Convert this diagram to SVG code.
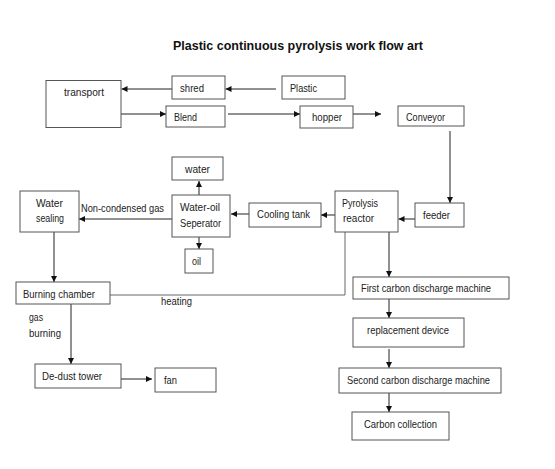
<svg xmlns="http://www.w3.org/2000/svg" width="555" height="469" viewBox="0 0 555 469">
<defs>
<marker id="ah" markerUnits="userSpaceOnUse" markerWidth="7" markerHeight="7" refX="6" refY="3" orient="auto">
<path d="M0,0 L6,3 L0,6 z" fill="#111"/>
</marker>
</defs>
<style>
.box{fill:#fff;stroke:#555;stroke-width:1}
.t{font-family:"Liberation Sans",Arial,sans-serif;font-size:10.5px;fill:#222}
.c{fill:none;stroke:#222;stroke-width:1}
.h{fill:none;stroke:#666;stroke-width:1}
.title{font-family:"Liberation Sans",Arial,sans-serif;font-size:13px;font-weight:bold;fill:#111}
</style>
<rect width="555" height="469" fill="#fff"/>
<text class="title" x="173" y="50" textLength="250" lengthAdjust="spacingAndGlyphs">Plastic continuous pyrolysis work flow art</text>

<g id="connectors">
<path class="c" d="M276,89 L225.5,89" marker-end="url(#ah)"/>
<path class="c" d="M172,89 L121.5,89" marker-end="url(#ah)"/>
<path class="c" d="M121,114 L166,114" marker-end="url(#ah)"/>
<path class="c" d="M228,114 L300,114" marker-end="url(#ah)"/>
<path class="c" d="M353,114 L381,114" marker-end="url(#ah)"/>
<path class="c" d="M450,131 L450,203" marker-end="url(#ah)"/>
<path class="c" d="M415,219 L398.5,219" marker-end="url(#ah)"/>
<path class="c" d="M335,215 L321,215" marker-end="url(#ah)"/>
<path class="c" d="M249,214 L231,214" marker-end="url(#ah)"/>
<path class="c" d="M199,195 L199,181" marker-end="url(#ah)"/>
<path class="c" d="M199,237 L199,249" marker-end="url(#ah)"/>
<path class="c" d="M172,219 L79,219" marker-end="url(#ah)"/>
<path class="c" d="M54,232 L54,282" marker-end="url(#ah)"/>
<path class="h" d="M345,232 L345,295 L110,295"/>
<path class="c" d="M389,232 L389,277" marker-end="url(#ah)"/>
<path class="c" d="M389,299 L389,318" marker-end="url(#ah)"/>
<path class="c" d="M389,349 L389,368" marker-end="url(#ah)"/>
<path class="c" d="M389,393 L389,412" marker-end="url(#ah)"/>
<path class="c" d="M71,304 L71,364" marker-end="url(#ah)"/>
<path class="c" d="M121,379 L152,379" marker-end="url(#ah)"/>
<text class="t" x="81" y="212" textLength="83" lengthAdjust="spacingAndGlyphs">Non-condensed gas</text>
<text class="t" x="161" y="305" textLength="31" lengthAdjust="spacingAndGlyphs">heating</text>
<text class="t" x="29" y="321" textLength="14" lengthAdjust="spacingAndGlyphs">gas</text>
<text class="t" x="29" y="337" textLength="32" lengthAdjust="spacingAndGlyphs">burning</text>
</g>

<g id="transport"><rect class="box" x="46" y="80.5" width="75" height="47"/><text class="t" x="64" y="96" textLength="40" lengthAdjust="spacingAndGlyphs">transport</text></g>
<g id="shred"><rect class="box" x="172" y="76" width="53" height="23"/><text class="t" x="180" y="92" textLength="24" lengthAdjust="spacingAndGlyphs">shred</text></g>
<g id="plastic"><rect class="box" x="282" y="76" width="63" height="23"/><text class="t" x="290" y="92" textLength="27" lengthAdjust="spacingAndGlyphs">Plastic</text></g>
<g id="blend"><rect class="box" x="166" y="106" width="59" height="21"/><text class="t" x="174" y="121" textLength="23" lengthAdjust="spacingAndGlyphs">Blend</text></g>
<g id="hopper"><rect class="box" x="300" y="106" width="53" height="22"/><text class="t" x="312" y="121" textLength="30" lengthAdjust="spacingAndGlyphs">hopper</text></g>
<g id="conveyor"><rect class="box" x="398" y="106" width="66" height="20"/><text class="t" x="406" y="121" textLength="39" lengthAdjust="spacingAndGlyphs">Conveyor</text></g>
<g id="feeder"><rect class="box" x="415" y="203" width="49" height="24"/><text class="t" x="423" y="219" textLength="27" lengthAdjust="spacingAndGlyphs">feeder</text></g>
<g id="pyrolysis"><rect class="box" x="335" y="191" width="63" height="41"/><text class="t" x="342" y="207" textLength="36" lengthAdjust="spacingAndGlyphs">Pyrolysis</text><text class="t" x="343" y="222" textLength="31" lengthAdjust="spacingAndGlyphs">reactor</text></g>
<g id="cooling"><rect class="box" x="249" y="203" width="72" height="24"/><text class="t" x="257" y="218" textLength="53" lengthAdjust="spacingAndGlyphs">Cooling tank</text></g>
<g id="water"><rect class="box" x="172" y="157" width="51" height="23"/><text class="t" x="185" y="173" textLength="25" lengthAdjust="spacingAndGlyphs">water</text></g>
<g id="separator"><rect class="box" x="172" y="195" width="58" height="42"/><text class="t" x="180" y="211" textLength="40" lengthAdjust="spacingAndGlyphs">Water-oil</text><text class="t" x="180" y="227" textLength="41" lengthAdjust="spacingAndGlyphs">Seperator</text></g>
<g id="oil"><rect class="box" x="185" y="249" width="28" height="24"/><text class="t" x="192" y="265" textLength="9" lengthAdjust="spacingAndGlyphs">oil</text></g>
<g id="water-sealing"><rect class="box" x="20" y="191" width="59" height="41"/><text class="t" x="36" y="207" textLength="27" lengthAdjust="spacingAndGlyphs">Water</text><text class="t" x="36" y="222" textLength="28" lengthAdjust="spacingAndGlyphs">sealing</text></g>
<g id="burning"><rect class="box" x="16" y="282" width="94" height="22"/><text class="t" x="23" y="298" textLength="72" lengthAdjust="spacingAndGlyphs">Burning chamber</text></g>
<g id="dedust"><rect class="box" x="35" y="364" width="86" height="24"/><text class="t" x="42" y="380" textLength="60" lengthAdjust="spacingAndGlyphs">De-dust tower</text></g>
<g id="fan"><rect class="box" x="155" y="368" width="61" height="24"/><text class="t" x="164" y="384" textLength="13" lengthAdjust="spacingAndGlyphs">fan</text></g>
<g id="first-carbon"><rect class="box" x="353" y="277" width="156" height="22"/><text class="t" x="361" y="292" textLength="130" lengthAdjust="spacingAndGlyphs">First carbon discharge machine</text></g>
<g id="replacement"><rect class="box" x="353" y="318" width="111" height="29"/><text class="t" x="367" y="334" textLength="82" lengthAdjust="spacingAndGlyphs">replacement device</text></g>
<g id="second-carbon"><rect class="box" x="339" y="368" width="162" height="25"/><text class="t" x="347" y="384" textLength="143" lengthAdjust="spacingAndGlyphs">Second carbon discharge machine</text></g>
<g id="carbon-collection"><rect class="box" x="352" y="412" width="97" height="28"/><text class="t" x="364" y="428" textLength="73" lengthAdjust="spacingAndGlyphs">Carbon collection</text></g>
</svg>
